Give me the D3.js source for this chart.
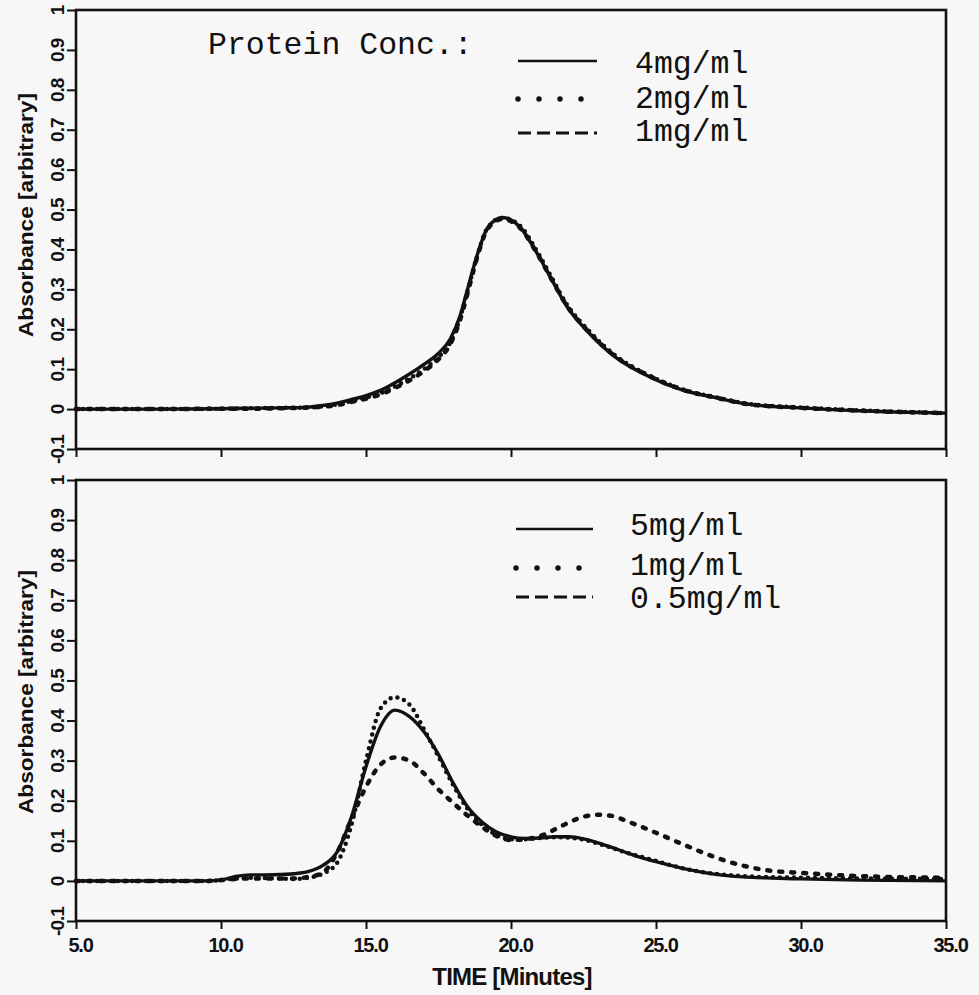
<!doctype html>
<html>
<head>
<meta charset="utf-8">
<style>
  html, body { margin: 0; padding: 0; background: #f7f7f7; }
  svg { display: block; }
  .tick line { stroke: #111; stroke-width: 2px; }
  .tick text { fill: #111; font-family: "Liberation Sans", Arial, sans-serif; font-weight: bold; }
  .legend { font-family: "Liberation Mono", "Courier New", monospace; fill: #111; }
</style>
</head>
<body>
<script src="https://cdn.jsdelivr.net/npm/d3@7"></script>
<script>
// upper chromatogram: protein 4, 2, 1 mg/ml
var topTimes = [5, 8, 10, 11, 12, 13, 13.5, 14, 14.5, 15, 15.5, 16, 16.5, 17, 17.5, 17.9, 18.25, 18.5, 18.8, 19.2, 19.7, 20.3, 20.9, 21.4, 21.9, 22.7, 23.6, 24.8, 25.9, 27.1, 28.2, 30, 32, 35];
var top4mg = [0, 0, 0.001, 0.002, 0.003, 0.005, 0.009, 0.015, 0.024, 0.034, 0.047, 0.066, 0.088, 0.112, 0.14, 0.175, 0.235, 0.3, 0.378, 0.455, 0.48, 0.457, 0.39, 0.325, 0.26, 0.19, 0.13, 0.08, 0.048, 0.028, 0.012, 0.003, -0.004, -0.01];
var top2mg = [0, 0, 0.001, 0.002, 0.003, 0.004, 0.007, 0.012, 0.02, 0.029, 0.04, 0.057, 0.077, 0.1, 0.13, 0.166, 0.23, 0.295, 0.375, 0.455, 0.479, 0.46, 0.395, 0.33, 0.265, 0.195, 0.134, 0.083, 0.05, 0.029, 0.013, 0.004, -0.003, -0.01];
var top1mg = [0, 0, 0.001, 0.001, 0.002, 0.004, 0.006, 0.01, 0.018, 0.026, 0.037, 0.053, 0.072, 0.095, 0.125, 0.162, 0.225, 0.29, 0.372, 0.452, 0.476, 0.455, 0.39, 0.325, 0.262, 0.192, 0.132, 0.082, 0.049, 0.028, 0.012, 0.003, -0.004, -0.01];
var topLabels = ["4mg/ml", "2mg/ml", "1mg/ml"];

// lower chromatogram: protein 5, 1, 0.5 mg/ml
var botTimes = [5, 8, 9.5, 10, 10.5, 11, 11.5, 12, 12.5, 13, 13.5, 14, 14.5, 15, 15.5, 16, 16.5, 17, 17.5, 18, 18.5, 19, 19.5, 20, 20.5, 21, 21.5, 22, 22.5, 23, 23.5, 24, 24.5, 25, 26, 27, 28, 29, 30, 32, 35];
var bot5mg = [0, 0, 0, 0.002, 0.011, 0.015, 0.015, 0.016, 0.018, 0.023, 0.038, 0.072, 0.16, 0.285, 0.385, 0.426, 0.41, 0.372, 0.315, 0.245, 0.185, 0.147, 0.122, 0.11, 0.106, 0.107, 0.11, 0.11, 0.105, 0.095, 0.083, 0.07, 0.058, 0.048, 0.03, 0.017, 0.01, 0.007, 0.005, 0.002, 0];
var bot1mg = [0, 0, 0, 0.002, 0.006, 0.008, 0.007, 0.006, 0.005, 0.008, 0.018, 0.045, 0.14, 0.3, 0.43, 0.458, 0.44, 0.378, 0.31, 0.24, 0.18, 0.14, 0.115, 0.104, 0.104, 0.107, 0.109, 0.108, 0.103, 0.093, 0.082, 0.07, 0.06, 0.05, 0.03, 0.018, 0.012, 0.009, 0.008, 0.006, 0.005];
var bot05mg = [0, 0, 0, 0.002, 0.005, 0.006, 0.006, 0.006, 0.006, 0.01, 0.02, 0.07, 0.155, 0.235, 0.29, 0.308, 0.3, 0.268, 0.228, 0.195, 0.163, 0.135, 0.112, 0.102, 0.104, 0.112, 0.128, 0.146, 0.16, 0.165, 0.162, 0.149, 0.135, 0.12, 0.089, 0.06, 0.038, 0.025, 0.02, 0.012, 0.008];
var botLabels = ["5mg/ml", "1mg/ml", "0.5mg/ml"];

var xTicks = [5, 10, 15, 20, 25, 30, 35];
var yTicks = [-0.1, 0, 0.1, 0.2, 0.3, 0.4, 0.5, 0.6, 0.7, 0.8, 0.9, 1];

var width = 979, height = 995;
var ink = "#111";

var svg = d3.select("body").append("svg")
    .attr("width", width)
    .attr("height", height);

var x = d3.scaleLinear().domain([5, 35]).range([76, 946]);

// line styles for solid / dotted / dashed, on the curves and in the legend
var styles = [
  {curve: {w: 3.4, dash: null, cap: "butt"}, key: {w: 2.5, dash: null, cap: "butt"}},
  {curve: {w: 4.5, dash: "0 7", cap: "round"}, key: {w: 5.5, dash: "0 21", cap: "round"}},
  {curve: {w: 4.5, dash: "3 9", cap: "round"}, key: {w: 3, dash: "13 6", cap: "butt"}}
];

function panel(opts) {
  var y = d3.scaleLinear().domain([-0.1, 1]).range([opts.bottom, opts.top]);
  var g = svg.append("g");

  // left axis, rotated labels
  var ya = g.append("g")
      .attr("transform", "translate(" + x.range()[0] + ",0)")
      .call(d3.axisLeft(y).tickValues(yTicks).tickSize(9).tickSizeOuter(0)
        .tickFormat(function (d) { return String(+d.toFixed(1)); }));
  ya.select(".domain").remove();
  ya.selectAll("text")
      .attr("transform", "rotate(-90)")
      .attr("text-anchor", "middle")
      .attr("x", 0)
      .attr("y", -12)
      .attr("dy", 0)
      .style("font-size", "19px")
      .style("letter-spacing", "-1px");

  // bottom axis
  var xa = g.append("g")
      .attr("transform", "translate(0," + opts.bottom + ")")
      .call(d3.axisBottom(x).tickValues(xTicks).tickSize(8).tickSizeOuter(0)
        .tickFormat(opts.xLabels ? d3.format(".1f") : ""));
  xa.select(".domain").remove();
  xa.selectAll("text")
      .attr("y", 31)
      .attr("dy", 0)
      .attr("x", 4)
      .style("font-size", "20px")
      .style("letter-spacing", "-1.2px");

  // frame
  g.append("rect")
      .attr("x", x.range()[0])
      .attr("y", opts.top)
      .attr("width", x.range()[1] - x.range()[0])
      .attr("height", opts.bottom - opts.top)
      .attr("fill", "none")
      .attr("stroke", ink)
      .attr("stroke-width", 2.6);

  // y title
  g.append("text")
      .attr("transform", "translate(33," + opts.titleY + ") rotate(-90)")
      .attr("text-anchor", "middle")
      .attr("font-family", "Liberation Sans, Arial, sans-serif")
      .attr("font-weight", "bold")
      .attr("font-size", 20)
      .attr("textLength", 244)
      .attr("lengthAdjust", "spacingAndGlyphs")
      .attr("fill", ink)
      .text("Absorbance [arbitrary]");

  var line = d3.line()
      .x(function (d) { return x(d[0]); })
      .y(function (d) { return y(d[1]); })
      .curve(d3.curveMonotoneX);

  // draw solid last so it sits on top like the original
  [1, 2, 0].forEach(function (i) {
    var s = styles[i].curve;
    g.append("path")
        .datum(opts.times.map(function (t, k) { return [t, opts.series[i][k]]; }))
        .attr("d", line)
        .attr("fill", "none")
        .attr("stroke", ink)
        .attr("stroke-width", s.w)
        .attr("stroke-linecap", s.cap)
        .attr("stroke-linejoin", "round")
        .attr("stroke-dasharray", s.dash);
  });

  // legend
  var lg = g.append("g").attr("class", "legend");
  opts.labels.forEach(function (lab, i) {
    var k = styles[i].key;
    lg.append("line")
        .attr("x1", opts.keyX[0]).attr("x2", opts.keyX[1])
        .attr("y1", opts.keyY[i]).attr("y2", opts.keyY[i])
        .attr("stroke", ink)
        .attr("stroke-width", k.w)
        .attr("stroke-linecap", k.cap)
        .attr("stroke-dasharray", k.dash);
    lg.append("text")
        .attr("x", opts.textX)
        .attr("y", opts.textY[i])
        .attr("font-size", 31.5)
        .text(lab);
  });
  return g;
}

var g1 = panel({
  top: 10, bottom: 449, titleY: 215, xLabels: false,
  times: topTimes, series: [top4mg, top2mg, top1mg], labels: topLabels,
  keyX: [518, 597], keyY: [61, 99, 133], textX: 635, textY: [73, 108, 141]
});
g1.append("text")
    .attr("class", "legend")
    .attr("x", 208)
    .attr("y", 54)
    .attr("font-size", 31.5)
    .text("Protein Conc.:");

panel({
  top: 480, bottom: 921, titleY: 692, xLabels: true,
  times: botTimes, series: [bot5mg, bot1mg, bot05mg], labels: botLabels,
  keyX: [516, 593], keyY: [529, 568, 597], textX: 630, textY: [535, 575, 608]
});

svg.append("text")
    .attr("x", 512)
    .attr("y", 985)
    .attr("text-anchor", "middle")
    .attr("font-family", "Liberation Sans, Arial, sans-serif")
    .attr("font-weight", "bold")
    .attr("font-size", 24)
    .attr("letter-spacing", -0.8)
    .attr("fill", ink)
    .text("TIME [Minutes]");
</script>
</body>
</html>
